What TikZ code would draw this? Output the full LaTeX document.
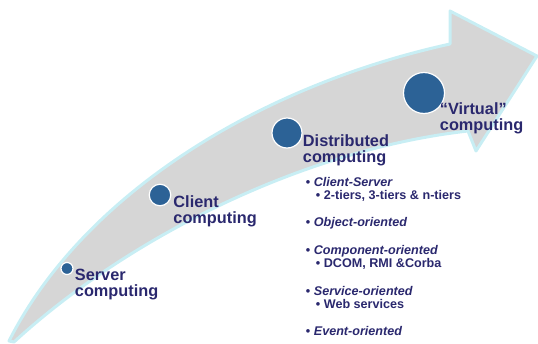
\documentclass[tikz,border=0pt]{standalone}
\usepackage{fontspec}
\setmainfont{Liberation Sans}
\usepackage{xcolor}

\definecolor{shaftgray}{RGB}{214,214,214}
\definecolor{glowcyan}{RGB}{200,238,244}
\definecolor{dotblue}{RGB}{44,98,150}
\definecolor{labelnavy}{RGB}{42,40,110}

\tikzset{
  arrowbody/.style={fill=shaftgray, draw=glowcyan, line width=3pt, line join=round},
  dot/.style={circle, fill=dotblue, draw=white, line width=1.2pt, inner sep=0pt},
  stagelabel/.style={anchor=north west, inner sep=0.75pt, align=left, text=labelnavy,
    font=\fontsize{16.3}{16}\selectfont\bfseries},
  kindlabel/.style={anchor=north west, inner sep=0.75pt, align=left, text=labelnavy,
    font=\fontsize{12.6}{13.7}\selectfont\bfseries}
}

\begin{document}
\begin{tikzpicture}[x=1pt, y=1pt, yscale=-1, xscale=1]
\useasboundingbox (0, 0) rectangle (538, 343);
%Arrow
\draw [arrowbody] (9, 341) .. controls (80, 200) and (250, 88) .. (450, 44) -- (450, 11) -- (537, 56) -- (476, 151) -- (468, 131) .. controls (300, 150) and (125, 240) .. (14, 342) -- cycle;
%Dots
\node (srv) [dot, minimum size=12pt] at (67, 268.5) {};
\node (cli) [dot, minimum size=21.5pt] at (160, 195) {};
\node (dist) [dot, minimum size=30pt] at (287, 133) {};
\node (virt) [dot, minimum size=41pt] at (424, 93) {};
%Text
\node (srvlabel) [stagelabel] at (74, 268.5) {Server\\computing};
\node (clilabel) [stagelabel] at (172.5, 195) {Client\\computing};
\node (distlabel) [stagelabel] at (302, 133.5) {Distributed\\computing};
\node (virtlabel) [stagelabel] at (439, 101.5) {“Virtual”\\computing};
\node (kinds) [kindlabel] at (305, 176) {•\ \textit{Client-Server}\\
\hspace*{10pt}•\ 2-tiers, 3-tiers \& n-tiers\\[13.5pt]
•\ \textit{Object-oriented}\\[13.5pt]
•\ \textit{Component-oriented}\\
\hspace*{10pt}•\ DCOM, RMI \&Corba\\[13.5pt]
•\ \textit{Service-oriented}\\
\hspace*{10pt}•\ Web services\\[13.5pt]
•\ \textit{Event-oriented}};
\end{tikzpicture}
\end{document}
